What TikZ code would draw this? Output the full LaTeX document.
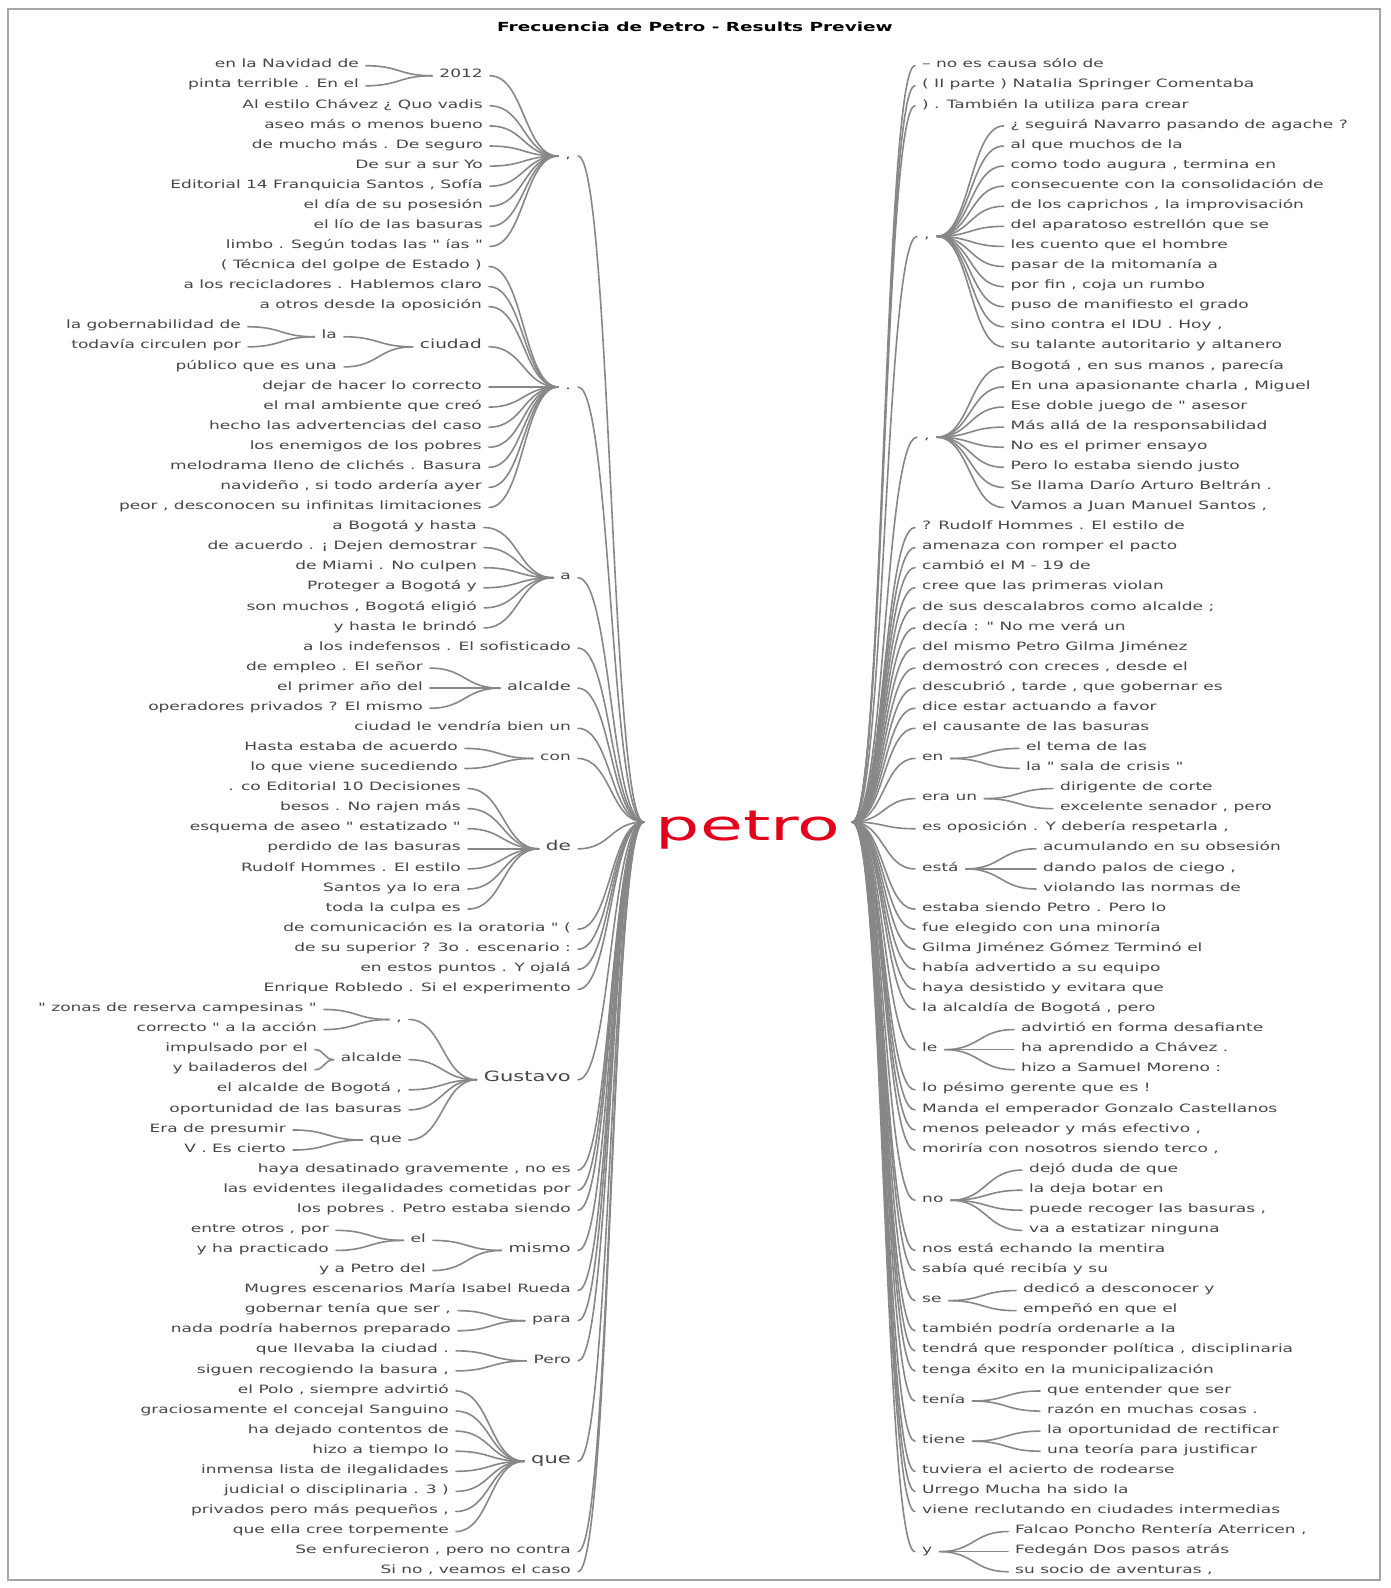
\documentclass[tikz,border=0pt]{standalone}
\usepackage{fontspec}
\usetikzlibrary{calc}

\newfontfamily\wtfont[FakeStretch=1.48]{DejaVu Sans}
\newfontfamily\rootfont[FakeStretch=1.66]{DejaVu Sans}

\definecolor{wtext}{RGB}{70,70,70}
\definecolor{wline}{RGB}{135,135,135}
\definecolor{petrored}{RGB}{226,0,26}

% row grid of the tree (pixels, y downwards)
\newcommand\rowy[1]{45.62+20.08*#1}
% one branch: horizontal at both ends, bent half way
\newcommand\wtlink[2]{\draw[wtline] let \p1=(#1), \p2=(#2) in
  (\p1) .. controls ({(\x1+\x2)/2},\y1) and ({(\x1+\x2)/2},\y2) .. (\p2);}

\tikzset{
  word/.style={font=\wtfont\fontsize{11.5}{13}\selectfont, text=wtext, inner xsep=7pt, inner ysep=1pt},
  lw/.style={word, anchor=mid east},
  rw/.style={word, anchor=mid west},
  wsize/.style={font=\wtfont\fontsize{#1}{#1}\selectfont},
  wtline/.style={draw=wline, line width=1.6pt, line cap=round}
}

\begin{document}
\begin{tikzpicture}[x=1pt,y=-1pt]
\useasboundingbox (0,0) rectangle (1390,1588);

% ---------- frame and title ----------
\draw[gray!70, line width=1.2pt] (8,9) rectangle (1380,1580);
\node[font=\wtfont\bfseries\fontsize{12.5}{14}\selectfont] (title) at (695,26.7) {Frecuencia de Petro - Results Preview};

% ---------- root ----------
\node[font=\rootfont\fontsize{42}{42}\selectfont, text=petrored, inner xsep=12pt, inner ysep=0pt,
      text height=36pt, text depth=0pt, anchor=base] (root) at (748,840) {petro};

% ---------- left side, first level ----------
\node[lw] (lc1) at (578,\rowy{5.5}) {,};
\node[lw] (ldot) at (578,\rowy{17}) {.};
\node[lw] (la) at (578,\rowy{26.5}) {a};
\node[lw] (L30) at (578,\rowy{30}) {a los indefensos . El sofisticado};
\node[lw,wsize=12] (lalc) at (578,\rowy{32}) {alcalde};
\node[lw] (L34) at (578,\rowy{34}) {ciudad le vendría bien un};
\node[lw] (lcon) at (578,\rowy{35.5}) {con};
\node[lw,wsize=13.5] (lde) at (578,\rowy{40}) {de};
\node[lw] (L44) at (578,\rowy{44}) {de comunicación es la oratoria " (};
\node[lw] (L45) at (578,\rowy{45}) {de su superior ? 3o . escenario :};
\node[lw] (L46) at (578,\rowy{46}) {en estos puntos . Y ojalá};
\node[lw] (L47) at (578,\rowy{47}) {Enrique Robledo . Si el experimento};
\node[lw,wsize=14.2] (lgus) at (578,\rowy{51.5}) {Gustavo};
\node[lw] (L56) at (578,\rowy{56}) {haya desatinado gravemente , no es};
\node[lw] (L57) at (578,\rowy{57}) {las evidentes ilegalidades cometidas por};
\node[lw] (L58) at (578,\rowy{58}) {los pobres . Petro estaba siendo};
\node[lw,wsize=12.5] (lmis) at (578,\rowy{60}) {mismo};
\node[lw] (L62) at (578,\rowy{62}) {Mugres escenarios María Isabel Rueda};
\node[lw] (lpara) at (578,\rowy{63.5}) {para};
\node[lw] (lpero) at (578,\rowy{65.5}) {Pero};
\node[lw,wsize=14.2] (lque) at (578,\rowy{70.5}) {que};
\node[lw] (L75) at (578,\rowy{75}) {Se enfurecieron , pero no contra};
\node[lw] (L76) at (578,\rowy{76}) {Si no , veamos el caso};

% ---------- left: "," ----------
\node[lw] (l2012) at (490,\rowy{1.5}) {2012};
\node[lw] (L1) at (366,\rowy{1}) {en la Navidad de};
\node[lw] (L2) at (366,\rowy{2}) {pinta terrible . En el};
\node[lw] (L3) at (490,\rowy{3}) {Al estilo Chávez ¿ Quo vadis};
\node[lw] (L4) at (490,\rowy{4}) {aseo más o menos bueno};
\node[lw] (L5) at (490,\rowy{5}) {de mucho más . De seguro};
\node[lw] (L6) at (490,\rowy{6}) {De sur a sur Yo};
\node[lw] (L7) at (490,\rowy{7}) {Editorial 14 Franquicia Santos , Sofía};
\node[lw] (L8) at (490,\rowy{8}) {el día de su posesión};
\node[lw] (L9) at (490,\rowy{9}) {el lío de las basuras};
\node[lw] (L10) at (490,\rowy{10}) {limbo . Según todas las " ías "};

% ---------- left: "." ----------
\node[lw] (L11) at (489,\rowy{11}) {( Técnica del golpe de Estado )};
\node[lw] (L12) at (489,\rowy{12}) {a los recicladores . Hablemos claro};
\node[lw] (L13) at (489,\rowy{13}) {a otros desde la oposición};
\node[lw,wsize=12.5] (lciu) at (489,\rowy{15}) {ciudad};
\node[lw] (lla) at (344,\rowy{14.5}) {la};
\node[lw] (L14) at (248,\rowy{14}) {la gobernabilidad de};
\node[lw] (L15) at (248,\rowy{15}) {todavía circulen por};
\node[lw] (L16) at (344,\rowy{16}) {público que es una};
\node[lw] (L17) at (489,\rowy{17}) {dejar de hacer lo correcto};
\node[lw] (L18) at (489,\rowy{18}) {el mal ambiente que creó};
\node[lw] (L19) at (489,\rowy{19}) {hecho las advertencias del caso};
\node[lw] (L20) at (489,\rowy{20}) {los enemigos de los pobres};
\node[lw] (L21) at (489,\rowy{21}) {melodrama lleno de clichés . Basura};
\node[lw] (L22) at (489,\rowy{22}) {navideño , si todo ardería ayer};
\node[lw] (L23) at (489,\rowy{23}) {peor , desconocen su infinitas limitaciones};

% ---------- left: "a", "alcalde", "con", "de" ----------
\node[lw] (L24) at (484,\rowy{24}) {a Bogotá y hasta};
\node[lw] (L25) at (484,\rowy{25}) {de acuerdo . ¡ Dejen demostrar};
\node[lw] (L26) at (484,\rowy{26}) {de Miami . No culpen};
\node[lw] (L27) at (484,\rowy{27}) {Proteger a Bogotá y};
\node[lw] (L28) at (484,\rowy{28}) {son muchos , Bogotá eligió};
\node[lw] (L29) at (484,\rowy{29}) {y hasta le brindó};
\node[lw] (L31) at (430,\rowy{31}) {de empleo . El señor};
\node[lw] (L32) at (430,\rowy{32}) {el primer año del};
\node[lw] (L33) at (430,\rowy{33}) {operadores privados ? El mismo};
\node[lw] (L35) at (465,\rowy{35}) {Hasta estaba de acuerdo};
\node[lw] (L36) at (465,\rowy{36}) {lo que viene sucediendo};
\node[lw] (L37) at (468,\rowy{37}) {. co Editorial 10 Decisiones};
\node[lw] (L38) at (468,\rowy{38}) {besos . No rajen más};
\node[lw] (L39) at (468,\rowy{39}) {esquema de aseo " estatizado "};
\node[lw] (L40) at (468,\rowy{40}) {perdido de las basuras};
\node[lw] (L41) at (468,\rowy{41}) {Rudolf Hommes . El estilo};
\node[lw] (L42) at (468,\rowy{42}) {Santos ya lo era};
\node[lw] (L43) at (468,\rowy{43}) {toda la culpa es};

% ---------- left: "Gustavo" ----------
\node[lw] (lgc) at (409,\rowy{48.5}) {,};
\node[lw] (L48) at (324,\rowy{48}) {" zonas de reserva campesinas "};
\node[lw] (L49) at (324,\rowy{49}) {correcto " a la acción};
\node[lw] (lgalc) at (409,\rowy{50.5}) {alcalde};
\node[lw] (L50) at (315,\rowy{50}) {impulsado por el};
\node[lw] (L51) at (315,\rowy{51}) {y bailaderos del};
\node[lw] (L52) at (409,\rowy{52}) {el alcalde de Bogotá ,};
\node[lw] (L53) at (409,\rowy{53}) {oportunidad de las basuras};
\node[lw] (lgque) at (409,\rowy{54.5}) {que};
\node[lw] (L54) at (293,\rowy{54}) {Era de presumir};
\node[lw] (L55) at (293,\rowy{55}) {V . Es cierto};

% ---------- left: "mismo", "para", "Pero", "que" ----------
\node[lw] (lel) at (433,\rowy{59.5}) {el};
\node[lw] (L59) at (336,\rowy{59}) {entre otros , por};
\node[lw] (L60) at (336,\rowy{60}) {y ha practicado};
\node[lw] (L61) at (433,\rowy{61}) {y a Petro del};
\node[lw] (L63) at (458,\rowy{63}) {gobernar tenía que ser ,};
\node[lw] (L64) at (458,\rowy{64}) {nada podría habernos preparado};
\node[lw] (L65) at (456,\rowy{65}) {que llevaba la ciudad .};
\node[lw] (L66) at (456,\rowy{66}) {siguen recogiendo la basura ,};
\node[lw] (L67) at (456,\rowy{67}) {el Polo , siempre advirtió};
\node[lw] (L68) at (456,\rowy{68}) {graciosamente el concejal Sanguino};
\node[lw] (L69) at (456,\rowy{69}) {ha dejado contentos de};
\node[lw] (L70) at (456,\rowy{70}) {hizo a tiempo lo};
\node[lw] (L71) at (456,\rowy{71}) {inmensa lista de ilegalidades};
\node[lw] (L72) at (456,\rowy{72}) {judicial o disciplinaria . 3 )};
\node[lw] (L73) at (456,\rowy{73}) {privados pero más pequeños ,};
\node[lw] (L74) at (456,\rowy{74}) {que ella cree torpemente};

% ---------- right side, first level ----------
\node[rw] (R1) at (915,\rowy{1}) {– no es causa sólo de};
\node[rw] (R2) at (915,\rowy{2}) {( II parte ) Natalia Springer Comentaba};
\node[rw] (R3) at (915,\rowy{3}) {) . También la utiliza para crear};
\node[rw] (rc1) at (917,\rowy{9.5}) {,};
\node[rw] (rc2) at (917,\rowy{19.5}) {,};
\node[rw] (R24) at (915,\rowy{24}) {? Rudolf Hommes . El estilo de};
\node[rw] (R25) at (915,\rowy{25}) {amenaza con romper el pacto};
\node[rw] (R26) at (915,\rowy{26}) {cambió el M - 19 de};
\node[rw] (R27) at (915,\rowy{27}) {cree que las primeras violan};
\node[rw] (R28) at (915,\rowy{28}) {de sus descalabros como alcalde ;};
\node[rw] (R29) at (915,\rowy{29}) {decía : " No me verá un};
\node[rw] (R30) at (915,\rowy{30}) {del mismo Petro Gilma Jiménez};
\node[rw] (R31) at (915,\rowy{31}) {demostró con creces , desde el};
\node[rw] (R32) at (915,\rowy{32}) {descubrió , tarde , que gobernar es};
\node[rw] (R33) at (915,\rowy{33}) {dice estar actuando a favor};
\node[rw] (R34) at (915,\rowy{34}) {el causante de las basuras};
\node[rw] (ren) at (915,\rowy{35.5}) {en};
\node[rw] (rera) at (915,\rowy{37.5}) {era un};
\node[rw] (R39) at (915,\rowy{39}) {es oposición . Y debería respetarla ,};
\node[rw] (resta) at (915,\rowy{41}) {está};
\node[rw] (R43) at (915,\rowy{43}) {estaba siendo Petro . Pero lo};
\node[rw] (R44) at (915,\rowy{44}) {fue elegido con una minoría};
\node[rw] (R45) at (915,\rowy{45}) {Gilma Jiménez Gómez Terminó el};
\node[rw] (R46) at (915,\rowy{46}) {había advertido a su equipo};
\node[rw] (R47) at (915,\rowy{47}) {haya desistido y evitara que};
\node[rw] (R48) at (915,\rowy{48}) {la alcaldía de Bogotá , pero};
\node[rw] (rle) at (915,\rowy{50}) {le};
\node[rw] (R52) at (915,\rowy{52}) {lo pésimo gerente que es !};
\node[rw] (R53) at (915,\rowy{53}) {Manda el emperador Gonzalo Castellanos};
\node[rw] (R54) at (915,\rowy{54}) {menos peleador y más efectivo ,};
\node[rw] (R55) at (915,\rowy{55}) {moriría con nosotros siendo terco ,};
\node[rw] (rno) at (915,\rowy{57.5}) {no};
\node[rw] (R60) at (915,\rowy{60}) {nos está echando la mentira};
\node[rw] (R61) at (915,\rowy{61}) {sabía qué recibía y su};
\node[rw] (rse) at (915,\rowy{62.5}) {se};
\node[rw] (R64) at (915,\rowy{64}) {también podría ordenarle a la};
\node[rw] (R65) at (915,\rowy{65}) {tendrá que responder política , disciplinaria};
\node[rw] (R66) at (915,\rowy{66}) {tenga éxito en la municipalización};
\node[rw] (rtenia) at (915,\rowy{67.5}) {tenía};
\node[rw] (rtiene) at (915,\rowy{69.5}) {tiene};
\node[rw] (R71) at (915,\rowy{71}) {tuviera el acierto de rodearse};
\node[rw] (R72) at (915,\rowy{72}) {Urrego Mucha ha sido la};
\node[rw] (R73) at (915,\rowy{73}) {viene reclutando en ciudades intermedias};
\node[rw] (ry) at (915,\rowy{75}) {y};

% ---------- right: the two "," ----------
\node[rw] (R4) at (1003.5,\rowy{4}) {¿ seguirá Navarro pasando de agache ?};
\node[rw] (R5) at (1003.5,\rowy{5}) {al que muchos de la};
\node[rw] (R6) at (1003.5,\rowy{6}) {como todo augura , termina en};
\node[rw] (R7) at (1003.5,\rowy{7}) {consecuente con la consolidación de};
\node[rw] (R8) at (1003.5,\rowy{8}) {de los caprichos , la improvisación};
\node[rw] (R9) at (1003.5,\rowy{9}) {del aparatoso estrellón que se};
\node[rw] (R10) at (1003.5,\rowy{10}) {les cuento que el hombre};
\node[rw] (R11) at (1003.5,\rowy{11}) {pasar de la mitomanía a};
\node[rw] (R12) at (1003.5,\rowy{12}) {por fin , coja un rumbo};
\node[rw] (R13) at (1003.5,\rowy{13}) {puso de manifiesto el grado};
\node[rw] (R14) at (1003.5,\rowy{14}) {sino contra el IDU . Hoy ,};
\node[rw] (R15) at (1003.5,\rowy{15}) {su talante autoritario y altanero};
\node[rw] (R16) at (1003.5,\rowy{16}) {Bogotá , en sus manos , parecía};
\node[rw] (R17) at (1003.5,\rowy{17}) {En una apasionante charla , Miguel};
\node[rw] (R18) at (1003.5,\rowy{18}) {Ese doble juego de " asesor};
\node[rw] (R19) at (1003.5,\rowy{19}) {Más allá de la responsabilidad};
\node[rw] (R20) at (1003.5,\rowy{20}) {No es el primer ensayo};
\node[rw] (R21) at (1003.5,\rowy{21}) {Pero lo estaba siendo justo};
\node[rw] (R22) at (1003.5,\rowy{22}) {Se llama Darío Arturo Beltrán .};
\node[rw] (R23) at (1003.5,\rowy{23}) {Vamos a Juan Manuel Santos ,};

% ---------- right: short words ----------
\node[rw] (R35) at (1019,\rowy{35}) {el tema de las};
\node[rw] (R36) at (1019,\rowy{36}) {la " sala de crisis "};
\node[rw] (R37) at (1053,\rowy{37}) {dirigente de corte};
\node[rw] (R38) at (1053,\rowy{38}) {excelente senador , pero};
\node[rw] (R40) at (1036,\rowy{40}) {acumulando en su obsesión};
\node[rw] (R41) at (1036,\rowy{41}) {dando palos de ciego ,};
\node[rw] (R42) at (1036,\rowy{42}) {violando las normas de};
\node[rw] (R49) at (1014,\rowy{49}) {advirtió en forma desafiante};
\node[rw] (R50) at (1014,\rowy{50}) {ha aprendido a Chávez .};
\node[rw] (R51) at (1014,\rowy{51}) {hizo a Samuel Moreno :};
\node[rw] (R56) at (1022,\rowy{56}) {dejó duda de que};
\node[rw] (R57) at (1022,\rowy{57}) {la deja botar en};
\node[rw] (R58) at (1022,\rowy{58}) {puede recoger las basuras ,};
\node[rw] (R59) at (1022,\rowy{59}) {va a estatizar ninguna};
\node[rw] (R62) at (1016,\rowy{62}) {dedicó a desconocer y};
\node[rw] (R63) at (1016,\rowy{63}) {empeñó en que el};
\node[rw] (R67) at (1040,\rowy{67}) {que entender que ser};
\node[rw] (R68) at (1040,\rowy{68}) {razón en muchas cosas .};
\node[rw] (R69) at (1040,\rowy{69}) {la oportunidad de rectificar};
\node[rw] (R70) at (1040,\rowy{70}) {una teoría para justificar};
\node[rw] (R74) at (1008,\rowy{74}) {Falcao Poncho Rentería Aterricen ,};
\node[rw] (R75) at (1008,\rowy{75}) {Fedegán Dos pasos atrás};
\node[rw] (R76) at (1008,\rowy{76}) {su socio de aventuras ,};

% ---------- branches, left ----------
\foreach \ch in {lc1,ldot,la,L30,lalc,L34,lcon,lde,L44,L45,L46,L47,lgus,L56,L57,L58,lmis,L62,lpara,lpero,lque,L75,L76}
  {\wtlink{root.west}{\ch.mid east}}
\foreach \pa/\ch in {lc1/l2012,lc1/L3,lc1/L4,lc1/L5,lc1/L6,lc1/L7,lc1/L8,lc1/L9,lc1/L10,l2012/L1,l2012/L2,
    ldot/L11,ldot/L12,ldot/L13,ldot/lciu,ldot/L17,ldot/L18,ldot/L19,ldot/L20,ldot/L21,ldot/L22,ldot/L23,
    lciu/lla,lciu/L16,lla/L14,lla/L15,
    la/L24,la/L25,la/L26,la/L27,la/L28,la/L29,lalc/L31,lalc/L32,lalc/L33,lcon/L35,lcon/L36,
    lde/L37,lde/L38,lde/L39,lde/L40,lde/L41,lde/L42,lde/L43,
    lgus/lgc,lgus/lgalc,lgus/L52,lgus/L53,lgus/lgque,lgc/L48,lgc/L49,lgalc/L50,lgalc/L51,lgque/L54,lgque/L55,
    lmis/lel,lmis/L61,lel/L59,lel/L60,lpara/L63,lpara/L64,lpero/L65,lpero/L66,
    lque/L67,lque/L68,lque/L69,lque/L70,lque/L71,lque/L72,lque/L73,lque/L74}
  {\wtlink{\pa.mid west}{\ch.mid east}}

% ---------- branches, right ----------
\foreach \ch in {R1,R2,R3,rc1,rc2,R24,R25,R26,R27,R28,R29,R30,R31,R32,R33,R34,ren,rera,R39,resta,R43,R44,R45,R46,R47,R48,rle,R52,R53,R54,R55,rno,R60,R61,rse,R64,R65,R66,rtenia,rtiene,R71,R72,R73,ry}
  {\wtlink{root.east}{\ch.mid west}}
\foreach \pa/\ch in {rc1/R4,rc1/R5,rc1/R6,rc1/R7,rc1/R8,rc1/R9,rc1/R10,rc1/R11,rc1/R12,rc1/R13,rc1/R14,rc1/R15,
    rc2/R16,rc2/R17,rc2/R18,rc2/R19,rc2/R20,rc2/R21,rc2/R22,rc2/R23,
    ren/R35,ren/R36,rera/R37,rera/R38,resta/R40,resta/R41,resta/R42,rle/R49,rle/R50,rle/R51,
    rno/R56,rno/R57,rno/R58,rno/R59,rse/R62,rse/R63,rtenia/R67,rtenia/R68,rtiene/R69,rtiene/R70,
    ry/R74,ry/R75,ry/R76}
  {\wtlink{\pa.mid east}{\ch.mid west}}

\end{tikzpicture}
\end{document}
